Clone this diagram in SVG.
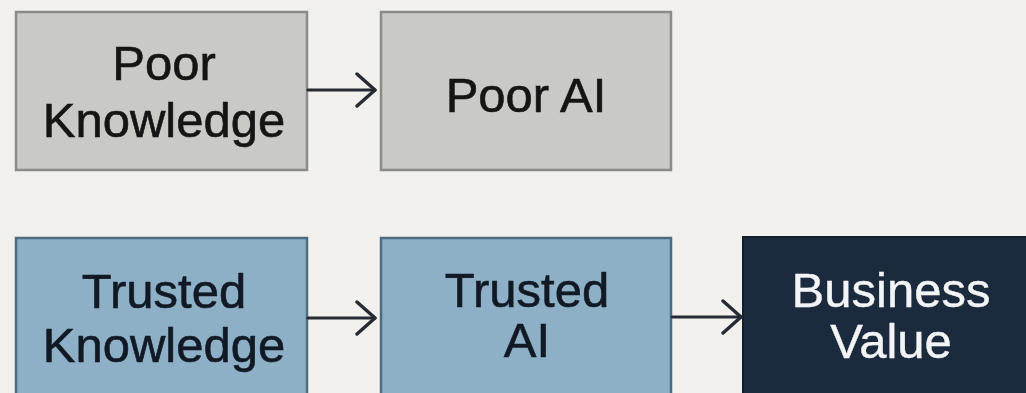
<svg xmlns="http://www.w3.org/2000/svg" width="1026" height="393" viewBox="0 0 1026 393">
  <style>
    .bg { fill: #f1f0ec; }
    .poor { fill: #c9c9c5; stroke: #8b8b88; stroke-width: 2.5; }
    .trusted { fill: #8eb0c7; stroke: #4d6c82; stroke-width: 2.5; }
    .value { fill: #1c2a3d; stroke: #131d2b; stroke-width: 2; }
    .lbl { font-family: "Liberation Sans", Arial, sans-serif; font-size: 49px; text-anchor: middle; fill: #151515; stroke: #151515; stroke-width: 0.6; }
    .lbl-dark { fill: #111a24; stroke: #111a24; }
    .lbl-light { fill: #f2f4f6; stroke: #f2f4f6; stroke-width: 0.4; }
    .conn { fill: none; stroke: #262b33; stroke-width: 3.2; stroke-linecap: round; stroke-linejoin: round; }
  </style>
  <defs>
    <marker id="chevron" markerUnits="userSpaceOnUse" markerWidth="24" markerHeight="38" refX="20" refY="19" orient="auto">
      <path d="M2,3 L20,19 L2,35" fill="none" stroke="#262b33" stroke-width="3.4" stroke-linecap="round" stroke-linejoin="round"/>
    </marker>
  </defs>

  <rect class="bg" x="0" y="0" width="1026" height="393"/>

  <g id="poor-knowledge">
    <rect class="poor" x="16" y="12" width="291" height="158"/>
    <text class="lbl" x="164" y="80">Poor</text>
    <text class="lbl" x="164" y="137">Knowledge</text>
  </g>

  <g id="poor-ai">
    <rect class="poor" x="381" y="12" width="290" height="158"/>
    <text class="lbl" x="526" y="112">Poor AI</text>
  </g>

  <g id="trusted-knowledge">
    <rect class="trusted" x="16" y="238" width="291" height="170"/>
    <text class="lbl lbl-dark" x="164" y="308">Trusted</text>
    <text class="lbl lbl-dark" x="164" y="362">Knowledge</text>
  </g>

  <g id="trusted-ai">
    <rect class="trusted" x="381" y="238" width="290" height="170"/>
    <text class="lbl lbl-dark" x="527" y="307">Trusted</text>
    <text class="lbl lbl-dark" x="527" y="357">AI</text>
  </g>

  <g id="business-value">
    <rect class="value" x="743" y="237" width="300" height="170"/>
    <text class="lbl lbl-light" x="891" y="307">Business</text>
    <text class="lbl lbl-light" x="891" y="358">Value</text>
  </g>

  <g id="connectors">
    <line class="conn" x1="308" y1="90" x2="375" y2="90" marker-end="url(#chevron)"/>
    <line class="conn" x1="308" y1="318" x2="375" y2="318" marker-end="url(#chevron)"/>
    <line class="conn" x1="672" y1="317" x2="741" y2="317" marker-end="url(#chevron)"/>
  </g>
</svg>
